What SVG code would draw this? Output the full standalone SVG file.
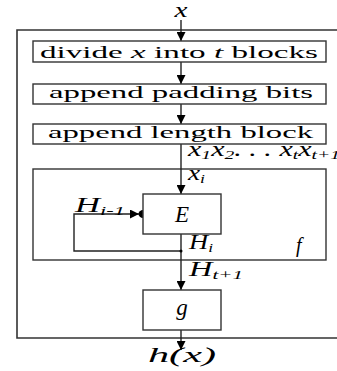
<svg xmlns="http://www.w3.org/2000/svg" width="337" height="371" viewBox="0 0 337 371">
  <defs>
    <marker id="arr" viewBox="0 0 10 10" refX="10" refY="5" markerWidth="9" markerHeight="9" markerUnits="userSpaceOnUse" orient="auto">
      <path d="M0,0 L10,5 L0,10 z" fill="#000"/>
    </marker>
    <style>
      .box { fill: #fff; stroke: #333; stroke-width: 1.4; }
      .frame { fill: none; stroke: #333; stroke-width: 1.6; }
      .ln { fill: none; stroke: #222; stroke-width: 1.4; }
      .t { font-family: "Liberation Serif", "DejaVu Serif", "Times New Roman", serif; font-size: 17px; fill: #000; }
      .m { font-family: "Liberation Serif", "DejaVu Serif", "Times New Roman", serif; font-style: italic; font-size: 20px; fill: #000; }
      .s { font-size: 13px; }
      .big { font-size: 23px; }
    </style>
  </defs>

  <rect width="337" height="371" fill="#fff"/>

  <!-- outer frame: open on the right -->
  <path class="frame" d="M340,30 H17 V338 H340"/>

  <g id="fbox">
    <rect class="box" x="33" y="169" width="293" height="91"/>
    <text class="m" x="296" y="252">f</text>
  </g>

  <g id="connectors">
    <line class="ln" x1="181" y1="20" x2="181" y2="41" marker-end="url(#arr)"/>
    <line class="ln" x1="181" y1="62" x2="181" y2="84" marker-end="url(#arr)"/>
    <line class="ln" x1="181" y1="104" x2="181" y2="124" marker-end="url(#arr)"/>
    <line class="ln" x1="181" y1="144" x2="181" y2="194" marker-end="url(#arr)"/>
    <line class="ln" x1="181" y1="234" x2="181" y2="290" marker-end="url(#arr)"/>
    <line class="ln" x1="181" y1="330" x2="181" y2="350" marker-end="url(#arr)"/>
    <path class="ln" d="M181,251 H74 V214 H139" marker-end="url(#arr)"/>
    <circle cx="181" cy="251" r="1.5" fill="#000"/>
    <ellipse cx="143" cy="214" rx="4.5" ry="4" fill="#000"/>
  </g>

  <g id="input">
    <text class="m" x="181" y="17" text-anchor="middle" textLength="13" lengthAdjust="spacingAndGlyphs">x</text>
  </g>

  <g id="divide">
    <rect class="box" x="33" y="41" width="293" height="21"/>
    <text class="t" x="40" y="58" textLength="278" lengthAdjust="spacingAndGlyphs">divide <tspan font-style="italic">x</tspan> into <tspan font-style="italic">t</tspan> blocks</text>
  </g>

  <g id="padding">
    <rect class="box" x="33" y="84" width="293" height="20"/>
    <text class="t" x="49" y="98" textLength="264" lengthAdjust="spacingAndGlyphs">append padding bits</text>
  </g>

  <g id="length">
    <rect class="box" x="33" y="124" width="293" height="20"/>
    <text class="t" x="48" y="138" textLength="265" lengthAdjust="spacingAndGlyphs">append length block</text>
  </g>

  <g id="blocks-label">
    <text class="m" x="188" y="156" textLength="152" lengthAdjust="spacingAndGlyphs">x<tspan class="s" dy="3">1</tspan><tspan dy="-3">x</tspan><tspan class="s" dy="3">2</tspan><tspan dy="-3">. . . x</tspan><tspan class="s" dy="3">t</tspan><tspan dy="-3">x</tspan><tspan class="s" dy="3">t+1</tspan></text>
  </g>

  <g id="xi-label">
    <text class="m" x="188" y="180" textLength="17" lengthAdjust="spacingAndGlyphs">x<tspan class="s" dy="3">i</tspan></text>
  </g>

  <g id="E">
    <rect class="box" x="143" y="194" width="78" height="40"/>
    <text class="m big" x="182" y="222" text-anchor="middle">E</text>
  </g>

  <g id="feedback-labels">
    <text class="m" x="75" y="212" textLength="50" lengthAdjust="spacingAndGlyphs">H<tspan class="s" dy="3">i-1</tspan></text>
    <text class="m" x="189" y="249" textLength="24" lengthAdjust="spacingAndGlyphs">H<tspan class="s" dy="3">i</tspan></text>
    <text class="m" x="189" y="276" textLength="54" lengthAdjust="spacingAndGlyphs">H<tspan class="s" dy="3">t+1</tspan></text>
  </g>

  <g id="g">
    <rect class="box" x="143" y="290" width="78" height="40"/>
    <text class="m big" x="182" y="315" text-anchor="middle">g</text>
  </g>

  <g id="output">
    <text class="m" x="182" y="362" text-anchor="middle" textLength="68" lengthAdjust="spacingAndGlyphs">h(x)</text>
  </g>
</svg>
